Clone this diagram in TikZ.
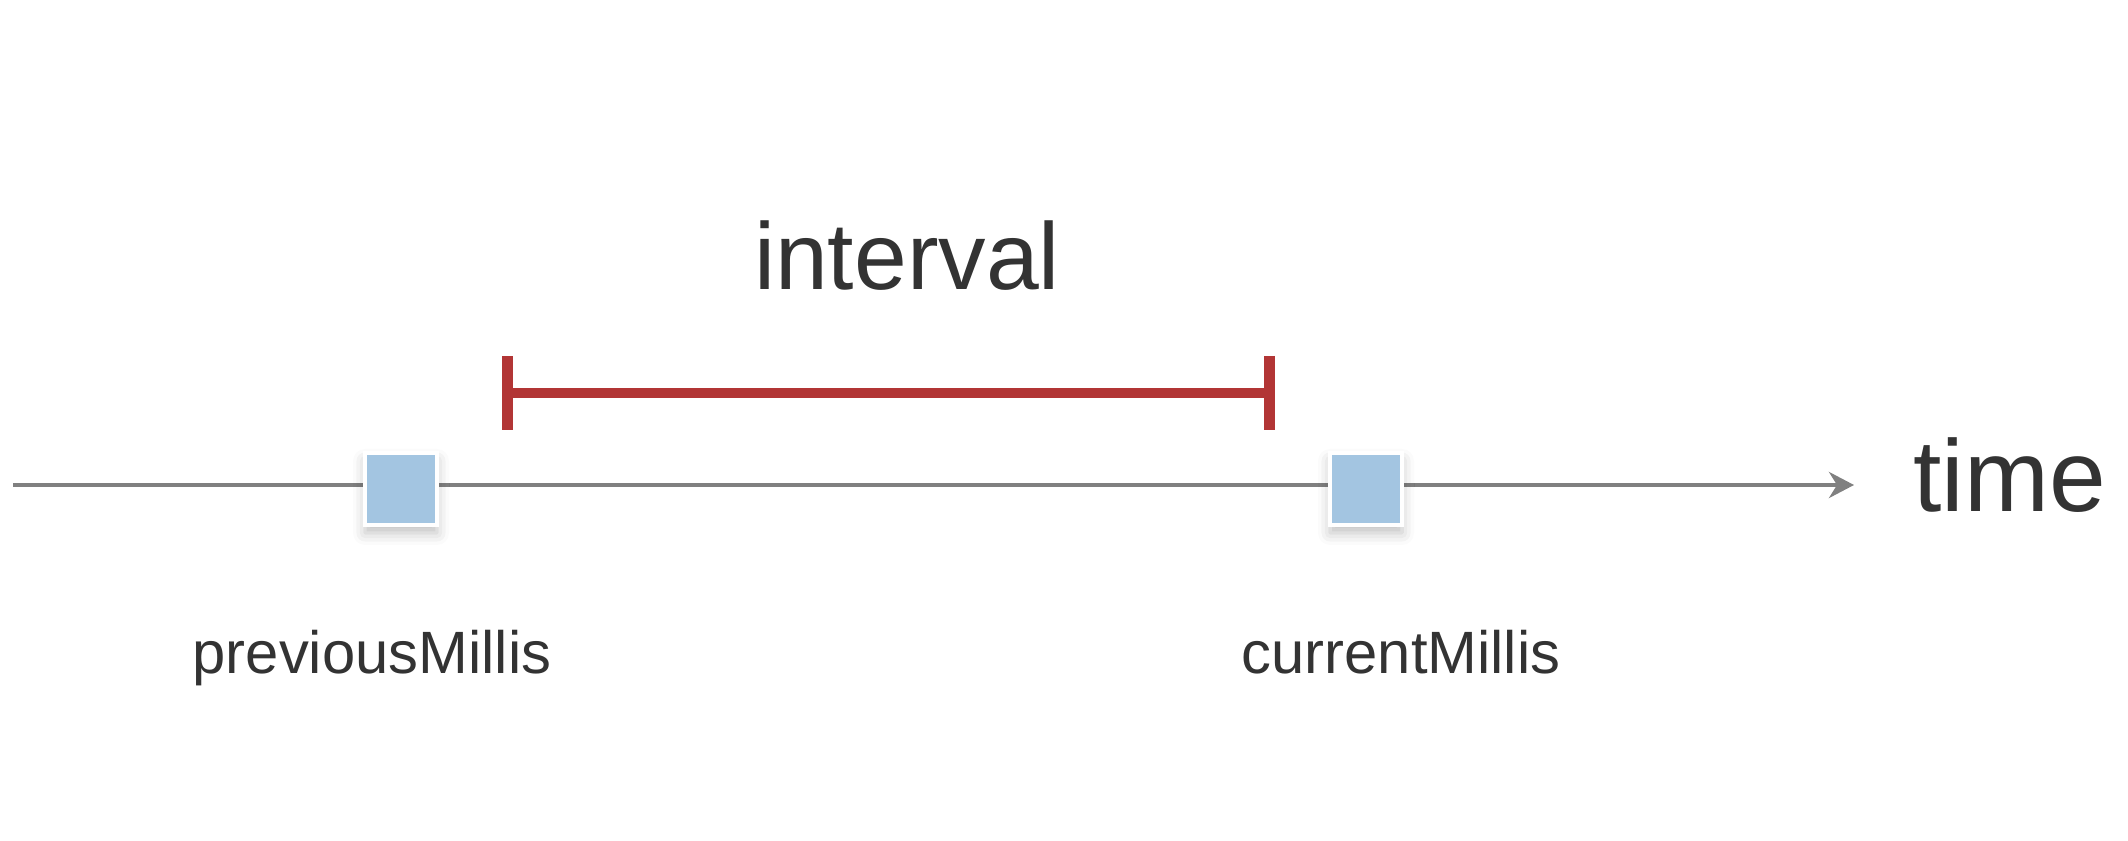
\documentclass[tikz,border=0pt]{standalone}
\usepackage{fontspec}
\setmainfont{Liberation Sans}
\usetikzlibrary{arrows.meta,shadows.blur}
\definecolor{stampblue}{HTML}{A3C5E1}
\definecolor{spanred}{HTML}{B23535}
\definecolor{inkgray}{HTML}{333333}
\tikzset{
  stamp/.style={rectangle, fill=stampblue, draw=white, line width=0.9pt,
    minimum size=7.2mm, inner sep=0pt,
    blur shadow={shadow xshift=0pt, shadow yshift=-0.8mm, shadow opacity=25, shadow blur radius=1.2mm}},
  tag/.style={text=inkgray, font=\fontsize{17}{20}\selectfont, anchor=base},
}
\begin{document}
\begin{tikzpicture}
                \useasboundingbox (0,0) rectangle (21.28,8.40);
                % time axis
                \coordinate (start) at (0.13,3.55);
                \coordinate (end) at (18.54,3.55);
                \draw[gray, line width=1.1pt, -{Stealth[length=2.5mm,width=2.6mm,inset=0.8mm]}] (start) -- (end);
                \node[text=inkgray, font=\fontsize{29}{34}\selectfont, anchor=base west] (time) at (19.01,3.28) {time};
                % the two samples
                \node[stamp] (prev) at (4.01,3.51) {};
                \node[stamp] (curr) at (13.66,3.51) {};
                \node[tag] (prevlabel) at (3.72,1.67) {previousMillis};
                \node[tag] (currlabel) at (14.01,1.67) {currentMillis};
                % interval
                \coordinate (spanl) at (5.02,4.47);
                \coordinate (spanr) at (12.75,4.47);
                \draw[spanred, line width=3.1pt, {Bar[width=7.4mm]}-{Bar[width=7.4mm]}] (spanl) -- (spanr);
                \node[text=inkgray, font=\fontsize{27}{32}\selectfont, anchor=base] (interval) at (9.07,5.50) {interval};
            \end{tikzpicture}
\end{document}
